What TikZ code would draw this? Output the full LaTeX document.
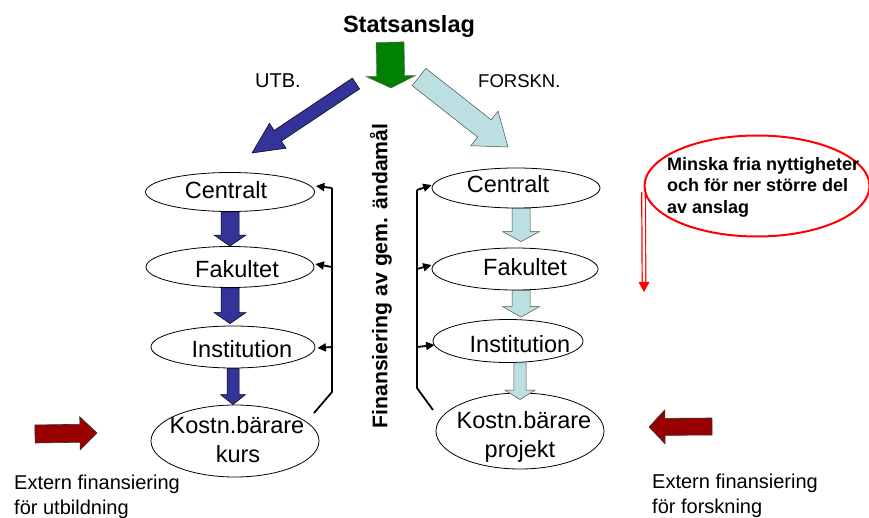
\documentclass[tikz,border=0pt]{standalone}
\usepackage{fontspec}
\setmainfont{Liberation Sans}
\usetikzlibrary{shapes.geometric,arrows.meta,calc}
\definecolor{utbblue}{HTML}{333399}
\definecolor{forskblue}{HTML}{BCE0E2}
\definecolor{stategreen}{HTML}{008000}
\definecolor{extred}{HTML}{990000}
% #1 style, #2 tail, #3 tip, #4 shaft half width, #5 head half width, #6 head length
\newcommand\blockarrow[6]{%
  \path #2 coordinate (bT) #3 coordinate (bP);
  \coordinate (bH) at ($(bP)!#6!(bT)$);
  \draw[#1] ($(bT)!#4!90:(bP)$) -- ($(bH)!#4!90:(bP)$) -- ($(bH)!#5!90:(bP)$) -- (bP)
    -- ($(bH)!#5!-90:(bP)$) -- ($(bH)!#4!-90:(bP)$) -- ($(bT)!#4!-90:(bP)$) -- cycle;}
\begin{document}
\begin{tikzpicture}[x=1pt,y=-1pt,
  ell/.style={draw, line width=0.8pt, ellipse, inner sep=0pt},
  lbl/.style={font=\fontsize{23.5}{27}\selectfont, inner sep=0pt, anchor=base},
  fbline/.style={line width=1.8pt},
  fb/.style={line width=1.8pt, -{Triangle[length=8.5pt,width=8pt]}},
  utbdown/.style={fill=utbblue, draw=black, line width=0.5pt},
  forskdown/.style={fill=forskblue, draw=black!70, line width=0.5pt},
  extarrow/.style={fill=extred, draw=black!80, line width=0.6pt},
  plain/.style={inner sep=0pt, font=\fontsize{20}{25}\selectfont}]
\useasboundingbox (0,0) rectangle (869,518);
\fill[white] (0,0) rectangle (869,518);

% ellipses
\node[ell, minimum width=169pt, minimum height=39pt] (lc) at (230,192) {};
\node[ell, minimum width=168pt, minimum height=41pt] (lf) at (230,267) {};
\node[ell, minimum width=164pt, minimum height=42pt] (li) at (233,347) {};
\node[ell, minimum width=168pt, minimum height=72pt] (lk) at (235,441) {};
\node[ell, minimum width=168pt, minimum height=40pt] (rc) at (516,188) {};
\node[ell, minimum width=166pt, minimum height=42pt] (rf) at (515,269) {};
\node[ell, minimum width=150pt, minimum height=43pt] (ri) at (508,341) {};
\node[ell, minimum width=168pt, minimum height=76pt] (rk) at (520,431) {};

% title and top arrows
\node[font=\bfseries\fontsize{23.5}{27}\selectfont, anchor=base, inner sep=0pt] (stat) at (409,33) {Statsanslag};
\coordinate (split) at (391,88);
\blockarrow{fill=stategreen, draw=black!60, line width=0.4pt}{($(stat.south)+(-19,4)$)}{(split)}{14pt}{25pt}{12pt}
\coordinate (utbtail) at (356,83.5);
\coordinate (utbtip) at (252,153);
\blockarrow{utbdown}{(utbtail)}{(utbtip)}{6.5pt}{15pt}{31pt}
\coordinate (fortail) at (419,77);
\coordinate (fortip) at (508,147);
\blockarrow{forskdown}{(fortail)}{(fortip)}{11pt}{22pt}{30pt}
\node[plain, anchor=base west] (utb) at (255,88) {UTB.};
\node[plain, anchor=base west, font=\fontsize{18.5}{22}\selectfont] (forsk) at (478,88) {FORSKN.};

% down arrows, left
\blockarrow{utbdown}{(lc.south)}{(lc.south |- lf.north)}{9pt}{16pt}{11pt}
\blockarrow{utbdown}{(lf.south)}{($(lf.south |- li.north)+(0,-2)$)}{9pt}{16pt}{11pt}
\blockarrow{utbdown}{(li.south)}{(li.south |- lk.north)}{6pt}{12.5pt}{10pt}
% down arrows, right
\blockarrow{forskdown}{($(rc.south)+(5,0)$)}{($(rc.south |- rf.north)+(5,-6)$)}{9pt}{18.5pt}{10pt}
\blockarrow{forskdown}{($(rf.south)+(6,0)$)}{($(rf.south |- ri.north)+(6,-2)$)}{9pt}{18.5pt}{10.5pt}
\blockarrow{forskdown}{($(ri.south)+(12,0)$)}{($(ri.south |- rk.north)+(12,7)$)}{6.2pt}{15pt}{9.5pt}

% ellipse texts
\node[lbl] (lct) at (226,199) {Centralt};
\node[lbl] (lft) at (237,278) {Fakultet};
\node[lbl] (lit) at (242,357) {Institution};
\node[lbl] (lkt1) at (237,433) {Kostn.bärare};
\node[lbl] (lkt2) at (238,462) {kurs};
\node[lbl] (rct) at (508,193) {Centralt};
\node[lbl] (rft) at (525,276) {Fakultet};
\node[lbl] (rit) at (520,352) {Institution};
\node[lbl] (rkt1) at (524,428) {Kostn.bärare};
\node[lbl] (rkt2) at (520,457) {projekt};

% feedback, left
\coordinate (lstart) at (314,413);
\coordinate (lbend) at (332,392);
\coordinate (ltop) at (332,188);
\draw[fbline] (lstart) -- (lbend) -- (ltop);
\draw[fb] (ltop) -- ($(lc.east)+(1,-6)$);
\draw[fb] (ltop |- lf.east) -- ($(lf.east)+(1,-3)$);
\draw[fb] (ltop |- li.east) -- ($(li.east)+(2,1)$);
% feedback, right
\coordinate (rstart) at (433,410);
\coordinate (rbend) at (417,388);
\coordinate (rtop) at (417,190);
\draw[fbline] (rstart) -- (rbend) -- (rtop);
\draw[fb] (rtop) -- ($(rc.west)+(0,-3)$);
\draw[fb] (rtop |- rf.west) -- ($(rf.west)+(0,-4)$);
\draw[fb] ($(rtop |- ri.west)+(0,6)$) -- ($(ri.west)+(2,4)$);

% vertical text
\node[rotate=90, inner sep=0pt, font=\bfseries\fontsize{21.2}{24}\selectfont] (fin) at (381,276) {Finansiering av gem. ändamål};

% red note
\node[draw=red, line width=2pt, ellipse, minimum width=225pt, minimum height=101pt, inner sep=0pt] (note) at (757,186) {};
\node[anchor=north west, align=left, inner sep=0pt, font=\bfseries\fontsize{18}{21.5}\selectfont] (notetxt) at (667,157) {Minska fria nyttigheter\\och för ner större del\\av anslag};
\coordinate (rend) at (644,292);
\draw[red, line width=1.2pt, double=white, double distance=2.4pt] ($(note.west)+(0,6)$) -- ($(rend)+(0,-9)$);
\fill[red] ($(rend)+(-5.5,-10)$) -- (rend) -- ($(rend)+(5.5,-10)$) -- cycle;

% external funding
\coordinate (extLtail) at (35,434);
\coordinate (extLtip) at (97,433);
\blockarrow{extarrow}{(extLtail)}{(extLtip)}{9pt}{16.5pt}{17pt}
\coordinate (extRtail) at (712,426.5);
\coordinate (extRtip) at (649,427);
\blockarrow{extarrow}{(extRtail)}{(extRtip)}{8.5pt}{17pt}{16pt}
\node[plain, anchor=north west, align=left] (extutb) at (14,475) {Extern finansiering\\för utbildning};
\node[plain, anchor=north west, align=left] (extfor) at (652,474) {Extern finansiering\\för forskning};
\end{tikzpicture}
\end{document}
